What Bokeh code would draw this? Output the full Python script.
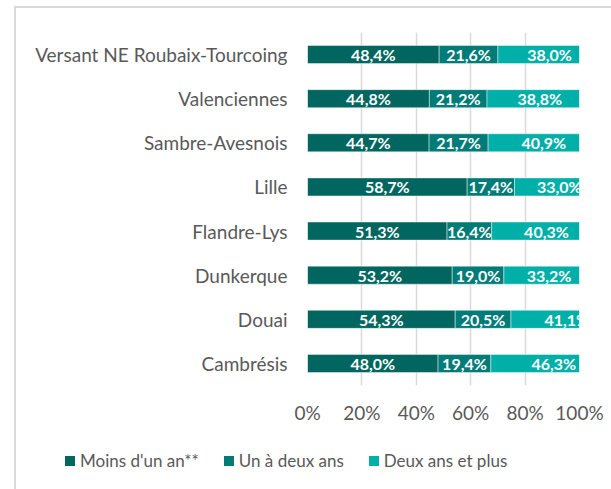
from bokeh.plotting import figure
from bokeh.layouts import column
from bokeh.models import ColumnDataSource, Div, FixedTicker, CustomJSTickFormatter
from bokeh.embed import file_html
from bokeh.resources import INLINE
from bokeh.core.properties import value

categories = ["Cambrésis", "Douai", "Dunkerque", "Flandre-Lys", "Lille",
              "Sambre-Avesnois", "Valenciennes", "Versant NE Roubaix-Tourcoing"]
moins_un_an = [48.0, 54.3, 53.2, 51.3, 58.7, 44.7, 44.8, 48.4]
un_a_deux = [19.4, 20.5, 19.0, 16.4, 17.4, 21.7, 21.2, 21.6]
deux_et_plus = [46.3, 41.1, 33.2, 40.3, 33.0, 40.9, 38.8, 38.0]
series_names = ["Moins d'un an**", "Un à deux ans", "Deux ans et plus"]
colors = ["#00665F", "#007B78", "#00AFA8"]
x_ticks = [0, 20, 40, 60, 80, 100]

FONT = "Lato"

p = figure(width=595, height=422, y_range=categories, x_range=(0, 100),
           output_backend="svg", toolbar_location=None,
           min_border_left=291, min_border_right=32, min_border_top=24, min_border_bottom=45)
p.frame_width = 272
p.frame_height = 353

series = [moins_un_an, un_a_deux, deux_et_plus]
left = [0.0] * len(categories)
for vals, col in zip(series, colors):
    right = [l + v for l, v in zip(left, vals)]
    mid = [(l + r) / 2 for l, r in zip(left, right)]
    labels = [f"{v:.1f}%".replace(".", ",") for v in vals]
    src = ColumnDataSource(dict(cat=categories, left=left, right=right, mid=mid, lab=labels))
    p.hbar(y="cat", left="left", right="right", height=0.41, source=src,
           fill_color=col, line_color="white", line_alpha=0.45, line_width=1)
    p.text(x="mid", y="cat", text="lab", source=src, text_color="white",
           text_font=value(FONT), text_font_style="bold", text_font_size="16px",
           text_align="center", text_baseline="middle")
    left = right

# axes
p.xaxis.ticker = FixedTicker(ticks=x_ticks)
p.xaxis.formatter = CustomJSTickFormatter(code="return tick + '%';")
for ax in (p.xaxis, p.yaxis):
    ax.axis_line_color = None
    ax.major_tick_line_color = None
    ax.minor_tick_line_color = None
    ax.major_tick_out = 0
    ax.major_tick_in = 0
    ax.minor_tick_out = 0
    ax.major_label_text_color = "#595959"
    ax.major_label_text_font = FONT
    ax.major_label_text_font_size = "19px"
p.yaxis.major_label_standoff = 20
p.xaxis.major_label_standoff = 15

p.xgrid.grid_line_color = "#D9D9D9"
p.xgrid.grid_line_width = 1.5
p.ygrid.grid_line_color = None
p.outline_line_color = None

# legend strip (HTML, real text)
item_html = "".join(
    f'<div style="display:flex;align-items:center;">'
    f'<span style="display:inline-block;width:10px;height:10px;background:{c};margin-right:5px;"></span>'
    f'<span>{n}</span></div>'
    for n, c in zip(series_names, colors))
legend_div = Div(
    text=f'<div style="display:flex;align-items:center;gap:25px;padding-left:44px;'
         f'padding-top:16px;font-family:{FONT};font-size:17px;color:#595959;'
         f'line-height:20px;white-space:nowrap;">{item_html}</div>',
    width=595, height=50)

layout = column(p, legend_div, spacing=0)
layout.styles = {"margin-left": "14px", "margin-top": "6px", "padding-bottom": "20px",
                 "border-left": "2px solid #D9D9D9", "border-top": "2px solid #D9D9D9"}

open("out.html", "w").write(file_html(layout, INLINE))
